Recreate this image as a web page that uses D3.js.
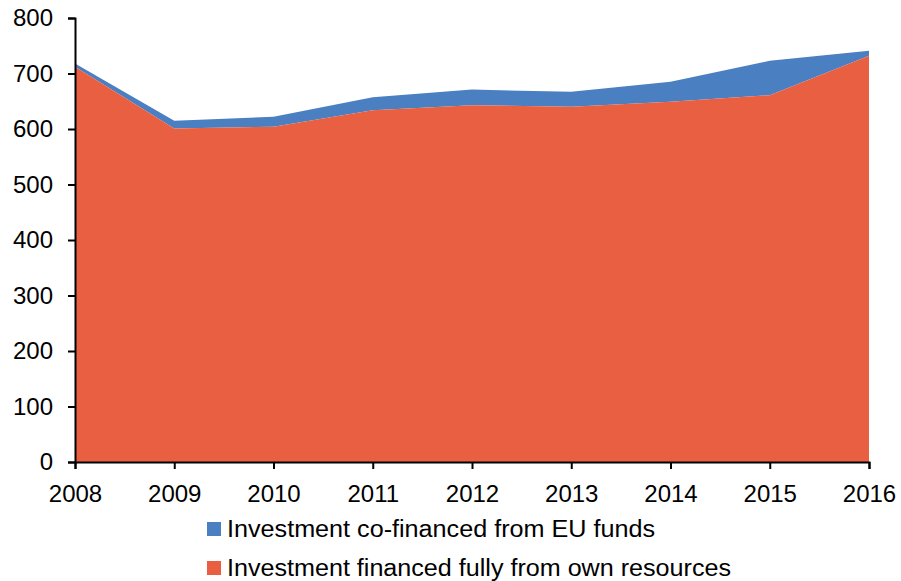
<!DOCTYPE html>
<html>
<head>
<meta charset="UTF-8">
<script src="https://d3js.org/d3.v7.min.js"></script>
<style>
  body { margin: 0; background: #fff; }
  text { font-family: "Liberation Sans", Arial, sans-serif; fill: #000; }
</style>
</head>
<body>
<svg width="901" height="581"></svg>
<script>
var years = [2008, 2009, 2010, 2011, 2012, 2013, 2014, 2015, 2016];
var ownResources = [712, 601, 604, 634, 643, 640, 649, 661, 732];
var euFunds = [6, 14, 18, 23, 28, 27, 36, 62, 9];
var yTicks = [0, 100, 200, 300, 400, 500, 600, 700, 800];
var seriesNames = ["Investment co-financed from EU funds", "Investment financed fully from own resources"];
var colors = ["#4a7fc1", "#e95f41"];

var plotLeft = 75, plotRight = 869, plotTop = 18, plotBottom = 462;
var svg = d3.select("svg");

var x = d3.scaleLinear().domain([2008, 2016]).range([plotLeft, plotRight]);
var y = d3.scaleLinear().domain([0, 800]).range([plotBottom, plotTop]);

var rows = years.map(function(yr, i) {
  return { year: yr, own: ownResources[i], eu: euFunds[i] };
});

var stack = d3.stack().keys(["own", "eu"])(rows);

var area = d3.area()
  .x(function(d) { return x(d.data.year); })
  .y0(function(d) { return y(d[0]); })
  .y1(function(d) { return y(d[1]); });

// eu on top (blue), own below (red)
svg.append("path").datum(stack[1]).attr("d", area).attr("fill", colors[0]);
svg.append("path").datum(stack[0]).attr("d", area).attr("fill", colors[1]);

var yAxis = svg.append("g")
  .attr("transform", "translate(" + plotLeft + ",0)")
  .call(d3.axisLeft(y).tickValues(yTicks).tickSize(7).tickPadding(15));
var xAxis = svg.append("g")
  .attr("transform", "translate(0," + plotBottom + ")")
  .call(d3.axisBottom(x).tickValues(years).tickFormat(d3.format("d")).tickSize(7).tickPadding(16));

[yAxis, xAxis].forEach(function(g) {
  g.select(".domain").attr("stroke", "#000").attr("stroke-width", 2);
  g.selectAll(".tick line").attr("stroke", "#000").attr("stroke-width", 2);
  g.selectAll(".tick text").attr("font-size", 24).attr("font-family", "Liberation Sans, Arial, sans-serif");
});

// legend text in the reference is slightly condensed
var legendWidths = [428, 504];
var legend = svg.append("g");
seriesNames.forEach(function(name, i) {
  var cy = 529 + i * 39;
  legend.append("rect").attr("x", 207).attr("y", cy - 7).attr("width", 14).attr("height", 14).attr("fill", colors[i]);
  legend.append("text").attr("x", 227).attr("y", cy + 8).attr("font-size", 23.5)
    .attr("textLength", legendWidths[i]).attr("lengthAdjust", "spacingAndGlyphs").text(name);
});
</script>
</body>
</html>
